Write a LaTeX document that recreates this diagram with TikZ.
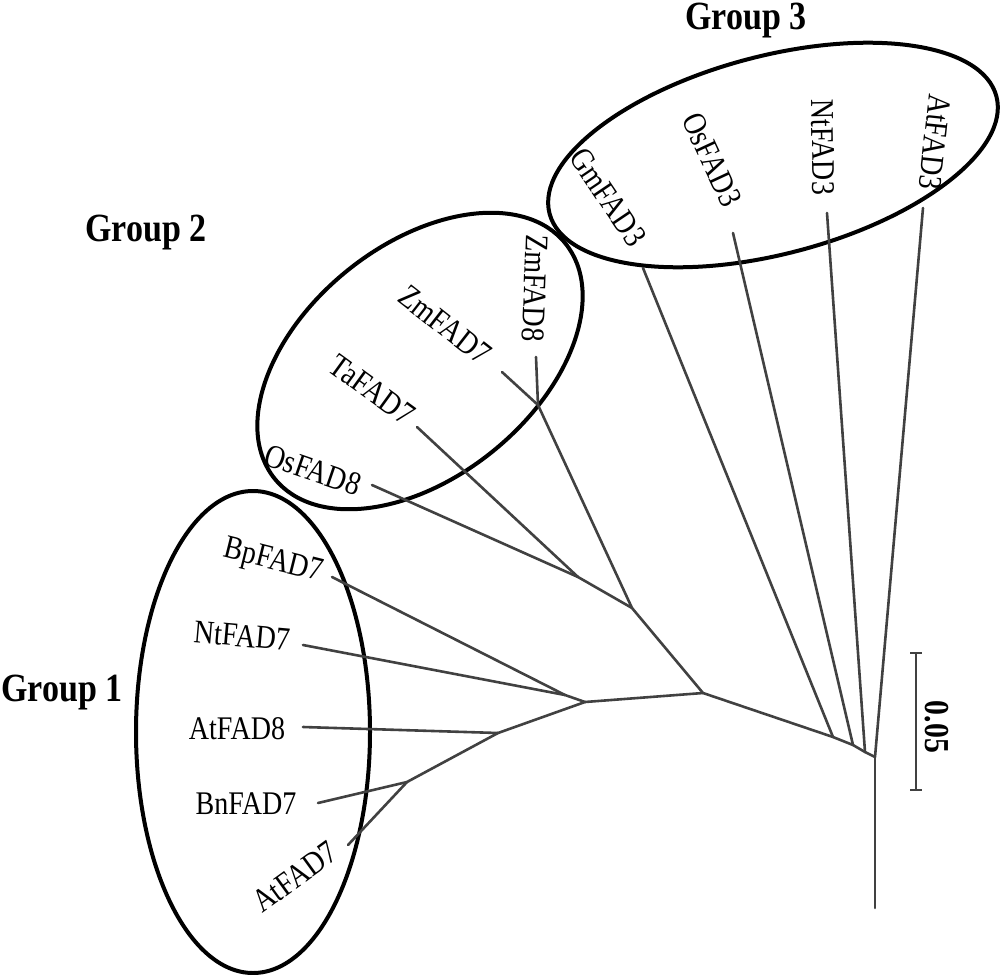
\documentclass[tikz,border=0pt]{standalone}
\usepackage{fontspec}
\setmainfont{Liberation Serif}
\definecolor{treegray}{RGB}{65,65,65}
\begin{document}
\begin{tikzpicture}[x=1pt,y=-1pt,
  branch/.style={line width=2.6pt, draw=treegray, line cap=round},
  grp/.style={line width=4pt, draw=black},
  lab/.style={font=\fontsize{33}{36}\selectfont, inner sep=0pt, xscale=0.85},
  gl/.style={font=\fontsize{40}{44}\selectfont\bfseries, inner sep=0pt, xscale=0.85, anchor=base},
  sc/.style={font=\fontsize{35}{38}\selectfont\bfseries, inner sep=0pt, xscale=0.85}]
\useasboundingbox (0,0) rectangle (1002,975);

% group ellipses
\coordinate (g1c) at (253,732);
\coordinate (g2c) at (420,361);
\coordinate (g3c) at (773,155);
\draw[grp] (g1c) ellipse [x radius=117, y radius=241];
\draw[grp, rotate around={39:(g2c)}] (g2c) ellipse [x radius=187, y radius=116];
\draw[grp, rotate around={14.7:(g3c)}] (g3c) ellipse [x radius=231, y radius=99];

% group labels
\node[gl] (G1) at (62,701) {Group 1};
\node[gl] (G2) at (146,241) {Group 2};
\node[gl] (G3) at (746,29) {Group 3};

% leaf labels
\node[rotate=-14, lab] (lBp7) at (273,562) {BpFAD7};
\node[rotate=-5, lab] (lNt7) at (242,636) {NtFAD7};
\node[lab] (lAt8) at (237,729) {AtFAD8};
\node[lab] (lBn7) at (246,804) {BnFAD7};
\node[rotate=36, lab] (lAt7) at (295,877) {AtFAD7};
\node[rotate=-19, lab] (lOs8) at (313,470) {OsFAD8};
\node[rotate=-36, lab] (lTa7) at (372,390) {TaFAD7};
\node[rotate=-38, lab] (lZm7) at (445,325) {ZmFAD7};
\node[rotate=-92, lab] (lZm8) at (535,288) {ZmFAD8};
\node[rotate=-56, lab] (lGm3) at (608,197) {GmFAD3};
\node[rotate=-65, lab] (lOs3) at (712,160) {OsFAD3};
\node[rotate=-89, lab] (lNt3) at (823,147) {NtFAD3};
\node[rotate=-96, lab] (lAt3) at (935,142) {AtFAD3};

% leaf line ends
\coordinate (tBp7) at (332,577);
\coordinate (tNt7) at (303,645);
\coordinate (tAt8) at (303,727);
\coordinate (tBn7) at (318,803);
\coordinate (tAt7) at (348,845);
\coordinate (tOs8) at (372,485);
\coordinate (tTa7) at (417,427);
\coordinate (tZm7) at (502,372);
\coordinate (tZm8) at (536,357);
\coordinate (tGm3) at (643,268);
\coordinate (tOs3) at (733,233);
\coordinate (tNt3) at (827,213);
\coordinate (tAt3) at (923,208);

% internal nodes
\coordinate (F) at (565,695);
\coordinate (E) at (585,702);
\coordinate (G) at (498,733);
\coordinate (H) at (407,782);
\coordinate (K) at (578,577);
\coordinate (I) at (538,405);
\coordinate (J) at (632,608);
\coordinate (D) at (703,693);
\coordinate (A) at (833,737);
\coordinate (B) at (853,745);
\coordinate (C) at (865,752);
\coordinate (R) at (875,757);
\coordinate (Rb) at (875,908);

% branches
\draw[branch] (tBp7) -- (F);
\draw[branch] (tNt7) -- (F);
\draw[branch] (F) -- (E);
\draw[branch] (tAt8) -- (G);
\draw[branch] (tBn7) -- (H);
\draw[branch] (tAt7) -- (H);
\draw[branch] (H) -- (G);
\draw[branch] (G) -- (E);
\draw[branch] (E) -- (D);
\draw[branch] (tOs8) -- (K);
\draw[branch] (tTa7) -- (K);
\draw[branch] (tZm7) -- (I);
\draw[branch] (tZm8) -- (I);
\draw[branch] (I) -- (J);
\draw[branch] (K) -- (J);
\draw[branch] (J) -- (D);
\draw[branch] (D) -- (A);
\draw[branch] (tGm3) -- (A);
\draw[branch] (A) -- (B);
\draw[branch] (tOs3) -- (B);
\draw[branch] (B) -- (C);
\draw[branch] (tNt3) -- (C);
\draw[branch] (C) -- (R);
\draw[branch] (tAt3) -- (R);
\draw[branch] (R) -- (Rb);

% scale bar
\coordinate (sT) at (916,653);
\coordinate (sB) at (916,790);
\draw[branch, line cap=butt] (sT) -- (sB);
\draw[branch, line cap=butt] ([xshift=-6pt]sT) -- ([xshift=6pt]sT);
\draw[branch, line cap=butt] ([xshift=-6pt]sB) -- ([xshift=6pt]sB);
\node[rotate=-90, sc] (scl) at (937,727) {0.05};
\end{tikzpicture}
\end{document}
